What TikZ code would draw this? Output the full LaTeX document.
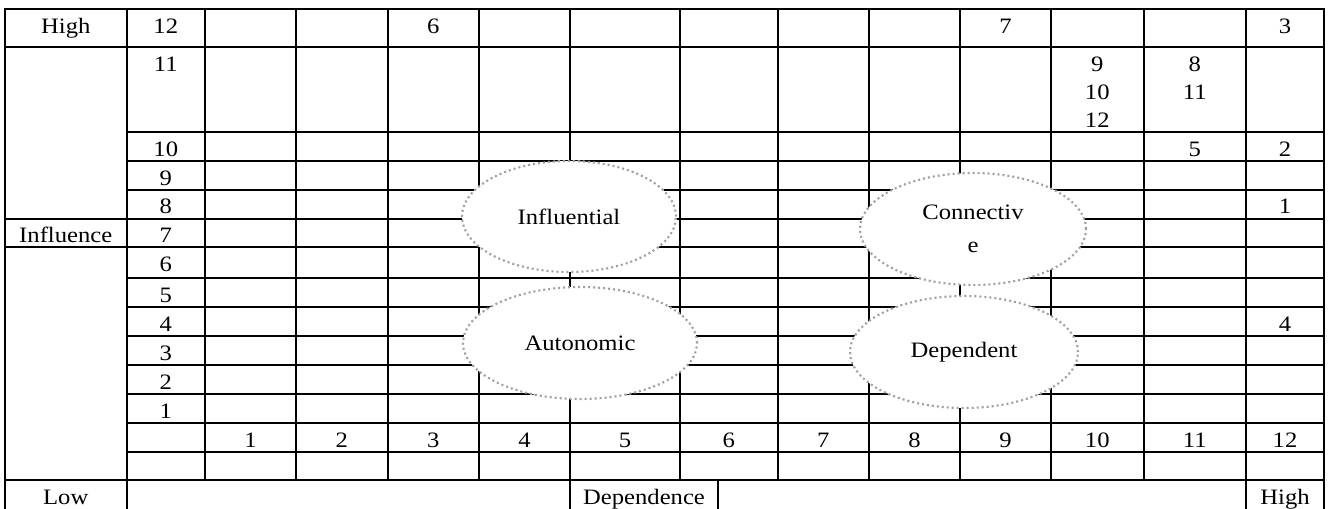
\documentclass[tikz,border=0pt]{standalone}
\usepackage{fontspec}
\setmainfont[FakeStretch=1.12]{Liberation Serif}
\usetikzlibrary{shapes.geometric}
\definecolor{zonegray}{RGB}{160,160,160}
\begin{document}
\begin{tikzpicture}[x=0.75pt,y=-0.75pt,
  grid/.style={line width=1.5pt, line cap=rect},
  lbl/.style={anchor=base, inner sep=0pt, font=\fontsize{16.5pt}{21pt}\selectfont},
  multi/.style={lbl, align=center},
  zone/.style={ellipse, draw=zonegray, fill=white, line width=1.6pt,
    dash pattern=on 1.5pt off 2.25pt, inner sep=0pt, align=center,
    font=\fontsize{16.5pt}{21pt}\selectfont},
]
\useasboundingbox (0,0) rectangle (1328,508);
% horizontal rules
\foreach \y in {9,47,218.5,247,480}
  \draw[grid] (5,\y) -- (1324,\y);
\foreach \y in {132,161,189.5,278,307,336,365,394,423,452}
  \draw[grid] (126.5,\y) -- (1324,\y);
% vertical rules
\foreach \x in {5,126.5,570,1246,1324}
  \draw[grid] (\x,9) -- (\x,508);
\foreach \x in {205,296,387.5,479,680,777.5,869,960,1051,1143.5}
  \draw[grid] (\x,9) -- (\x,480);
\draw[grid] (718,480) -- (718,508);
% axis labels
\node[lbl] (hHigh) at (65.75,33) {High};
\node[lbl] (hInfl) at (65.75,242.5) {Influence};
\node[lbl] (hLow) at (65.75,504) {Low};
\node[lbl] (hDep) at (644,504) {Dependence};
\node[lbl] (hHighR) at (1285,504) {High};
% row numbers
\foreach \t [count=\i] in {9,47,132,161,189.5,218.5,247,278,307,336,365,394} {
  \pgfmathtruncatemacro\n{13-\i}
  \node[lbl] (r\n) at (165.75,\t+24) {\n};
}
% column numbers
\foreach \c/\x in {1/250.5,2/341.75,3/433.25,4/524.5,5/625,6/728.75,7/823.25,8/914.5,9/1005.5,10/1097.25,11/1194.75,12/1285}
  \node[lbl] (c\c) at (\x,447) {\c};
% entries
\node[lbl] (d6) at (433.25,33) {6};
\node[lbl] (d7) at (1005.5,33) {7};
\node[lbl] (d3) at (1285,33) {3};
\node[multi] (d91012) at (1097.25,127) {9\\10\\12};
\node[multi] (d811) at (1194.75,99) {8\\11};
\node[lbl] (d5) at (1194.75,156) {5};
\node[lbl] (d2) at (1285,156) {2};
\node[lbl] (d1) at (1285,213.5) {1};
\node[lbl] (d4) at (1285,331) {4};
% zones
\node[zone, minimum width=160.5pt, minimum height=83.25pt] (infl) at (569,216.5) {Influential};
\node[zone, minimum width=175.5pt, minimum height=84pt] (auto) at (580,343) {Autonomic};
\node[zone, minimum width=169.5pt, minimum height=84pt] (conn) at (973,229) {Connectiv\\[4pt]e};
\node[zone, minimum width=171pt, minimum height=84pt] (dep) at (964,352) {Dependent};
\end{tikzpicture}
\end{document}
